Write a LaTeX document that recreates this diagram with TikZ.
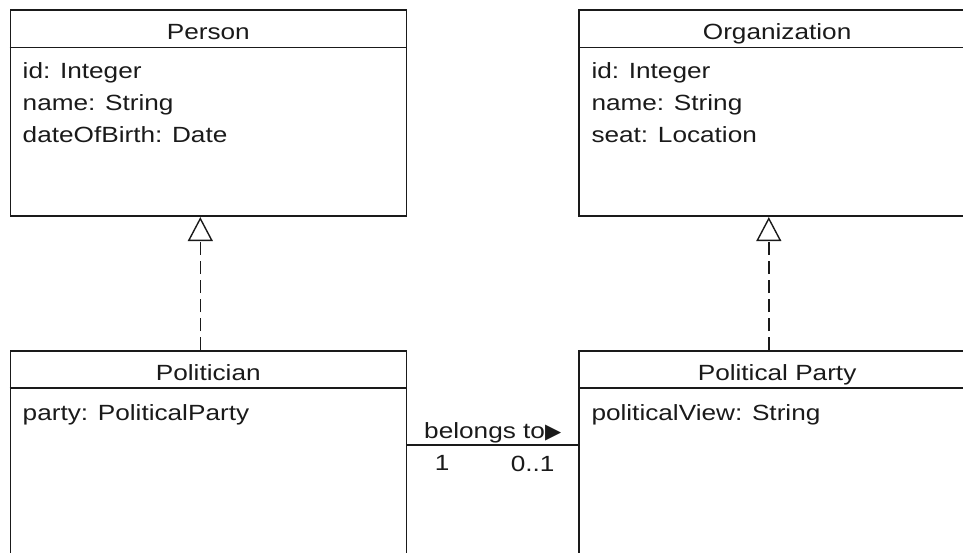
\documentclass[tikz,border=0pt]{standalone}
\usepackage{fontspec}
\setmainfont{Liberation Sans}[FakeStretch=1.19]
\newfontfamily\umlsym{DejaVu Sans}
\usetikzlibrary{arrows.meta}
\definecolor{umlline}{HTML}{1A1A1A}
\definecolor{umltext}{HTML}{1A1A1A}

\tikzset{
  umlclass/.style={draw=umlline, line width=1.6pt, anchor=north west,
    inner sep=0pt, minimum width=396pt},
  umlrule/.style={draw=umlline, line width=1.6pt},
  umltitle/.style={anchor=base, inner sep=0pt, text=umltext,
    font=\fontsize{22}{32}\selectfont},
  umlattr/.style={anchor=base west, inner sep=0pt, text=umltext,
    font=\fontsize{22}{32}\selectfont},
  umlrealize/.style={umlrule, line width=1.4pt, dash pattern=on 13pt off 6pt,
    -{Triangle[open, length=24pt, width=25pt]}},
}

\begin{document}
\begin{tikzpicture}[x=1pt, y=-1pt]
  % the two lower classes run on past the bottom edge, and Organization past
  % the right edge, so the page itself is the clip
  \clip (0,0) rectangle (963,553);

  \node[umlclass, minimum height=206pt] (person) at (9.5,9.5) {};
  \node[umlclass, minimum height=206pt] (org) at (578.3,9.5) {};
  \node[umlclass, minimum height=260pt] (politician) at (9.5,350) {};
  \node[umlclass, minimum height=260pt] (party) at (578.3,350) {};

  % header compartments
  \foreach \cls/\title in {person/Person, org/Organization,
                           politician/Politician, party/Political Party} {
    \draw[umlrule] ([yshift=-38pt]\cls.north west) -- ([yshift=-38pt]\cls.north east);
    \node[umltitle] (\cls-title) at ([yshift=-30.5pt]\cls.north) {\title};
  }

  % attribute compartments
  \foreach \attr [count=\i] in {id: Integer, name: String, dateOfBirth: Date}
    \node[umlattr] (person-attr-\i) at ([xshift=13pt, yshift={-69.5pt-32pt*(\i-1)}]person.north west) {\attr};
  \foreach \attr [count=\i] in {id: Integer, name: String, seat: Location}
    \node[umlattr] (org-attr-\i) at ([xshift=13pt, yshift={-69.5pt-32pt*(\i-1)}]org.north west) {\attr};
  \node[umlattr] (politician-attr-1) at ([xshift=13pt, yshift=-70pt]politician.north west) {party: PoliticalParty};
  \node[umlattr] (party-attr-1) at ([xshift=13pt, yshift=-70pt]party.north west) {politicalView: String};

  % realizations
  \draw[umlrealize] ([xshift=-8pt]politician.north) -- ([xshift=-8pt]person.south);
  \draw[umlrealize] ([xshift=-8.3pt]party.north) -- ([xshift=-8.3pt]org.south);

  % association
  \draw[umlrule] ([yshift=-95pt]politician.north east)
    -- node[umlattr, anchor=base, yshift=7pt] (assoc-name)
         {belongs to{\umlsym\fontsize{21}{21}\selectfont ▶}}
       node[umlattr, pos=0, anchor=north west, xshift=27pt, yshift=-10pt] (assoc-mult-a) {1}
       node[umlattr, pos=1, anchor=north east, xshift=-23pt, yshift=-10pt] (assoc-mult-b) {0..1}
       ([yshift=-95pt]party.north west);
\end{tikzpicture}
\end{document}
